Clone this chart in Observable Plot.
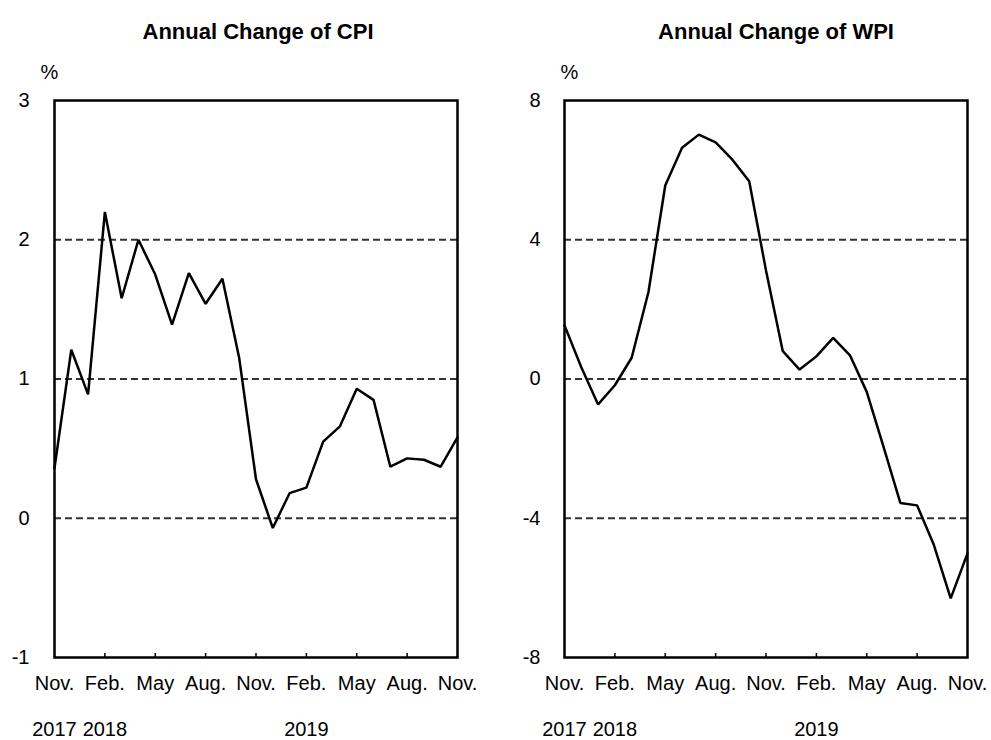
<!DOCTYPE html>
<html>
<head>
<meta charset="utf-8">
<script src="https://cdn.jsdelivr.net/npm/d3@7"></script>
<script src="https://cdn.jsdelivr.net/npm/@observablehq/plot@0.6"></script>
<style>
  html, body { margin: 0; padding: 0; background: #fff; }
  #wrap { display: flex; width: 991px; height: 740px; }
</style>
</head>
<body>
<div id="wrap"></div>
<script>
// Months from Nov. 2017 to Nov. 2019
const months = ["2017-11","2017-12","2018-01","2018-02","2018-03","2018-04","2018-05","2018-06","2018-07","2018-08","2018-09","2018-10","2018-11","2018-12","2019-01","2019-02","2019-03","2019-04","2019-05","2019-06","2019-07","2019-08","2019-09","2019-10","2019-11"];
// Annual change of CPI (%)
const cpi = [0.36, 1.21, 0.89, 2.20, 1.58, 2.00, 1.75, 1.39, 1.76, 1.54, 1.72, 1.15, 0.28, -0.07, 0.18, 0.22, 0.55, 0.66, 0.93, 0.85, 0.37, 0.43, 0.42, 0.37, 0.58];
// Annual change of WPI (%)
const wpi = [1.54, 0.34, -0.73, -0.18, 0.61, 2.50, 5.56, 6.64, 7.02, 6.80, 6.30, 5.68, 3.12, 0.80, 0.27, 0.65, 1.18, 0.68, -0.37, -1.95, -3.56, -3.63, -4.77, -6.30, -5.01];
// Tick labels
const tickMonths = ["2017-11","2018-02","2018-05","2018-08","2018-11","2019-02","2019-05","2019-08","2019-11"];
const tickLabels = ["Nov.","Feb.","May","Aug.","Nov.","Feb.","May","Aug.","Nov."];
const yearMonths = ["2017-11","2018-02","2019-02"];
const yearLabels = ["2017","2018","2019"];
const cpiTicks = [-1, 0, 1, 2, 3];
const cpiGrid = [0, 1, 2];
const wpiTicks = [-8, -4, 0, 4, 8];
const wpiGrid = [-4, 0, 4];

const FONT = "'Liberation Sans', Arial, Helvetica, sans-serif";

function panel({title, values, yDomain, yTicks, grid, width, mLeft, mRight, yPad, titleDx, pctDx}) {
  const data = values.map((v, i) => ({i, v, m: months[i]}));
  const tickIdx = tickMonths.map(m => months.indexOf(m));
  const yearIdx = yearMonths.map(m => months.indexOf(m));
  const innerTicks = tickIdx.slice(1, -1);
  const svg = Plot.plot({
    width, height: 740,
    marginTop: 100, marginBottom: 83, marginLeft: mLeft, marginRight: mRight,
    style: {fontFamily: FONT, fontSize: "20px", color: "#000", background: "#fff", overflow: "visible"},
    x: {domain: [0, months.length - 1], axis: null},
    y: {domain: yDomain, axis: null},
    marks: [
      Plot.ruleY(grid, {stroke: "#333", strokeWidth: 2, strokeDasharray: "7,4"}),
      Plot.line(data, {x: "i", y: "v", stroke: "#000", strokeWidth: 2.5, strokeLinejoin: "miter"}),
      Plot.tickX(innerTicks, {x: d => d, insetTop: 553, stroke: "#000", strokeWidth: 1.5}),
      Plot.frame({stroke: "#000", strokeWidth: 2.5}),
      Plot.axisY(yTicks, {tickSize: 0, tickPadding: yPad, fontSize: 20, fill: "#000", label: null,
        tickFormat: d => String(d)}),
      Plot.axisX(tickIdx, {tickSize: 0, tickPadding: 18, fontSize: 20, fill: "#000", label: null,
        tickFormat: d => tickLabels[tickIdx.indexOf(d)]}),
      Plot.text(yearIdx, {x: d => d, text: (d, i) => yearLabels[i], frameAnchor: "bottom", lineAnchor: "middle", dy: 72, fontSize: 20, fill: "#000"}),
      Plot.text(["%"], {frameAnchor: "top-left", lineAnchor: "middle", dx: pctDx, dy: -28, fontSize: 20, fill: "#000"}),
      Plot.text([title], {frameAnchor: "top", lineAnchor: "middle", dx: titleDx, dy: -69, fontSize: 22, fontWeight: "bold", fill: "#000", ariaLabel: "title"})
    ]
  });
  const t = svg.querySelector('g[aria-label="title"] text');
  if (t) { t.setAttribute("textLength", 265); t.setAttribute("lengthAdjust", "spacingAndGlyphs"); }
  return svg;
}

const wrap = document.getElementById("wrap");
wrap.appendChild(panel({
  title: "Annual Change of CPI", values: cpi, yDomain: [-1, 3], yTicks: cpiTicks, grid: cpiGrid,
  width: 500, mLeft: 54, mRight: 43, yPad: 25, titleDx: 2, pctDx: -14
}));
wrap.appendChild(panel({
  title: "Annual Change of WPI", values: wpi, yDomain: [-8, 8], yTicks: wpiTicks, grid: wpiGrid,
  width: 491, mLeft: 64, mRight: 24, yPad: 24, titleDx: 10, pctDx: -4
}));
</script>
</body>
</html>
